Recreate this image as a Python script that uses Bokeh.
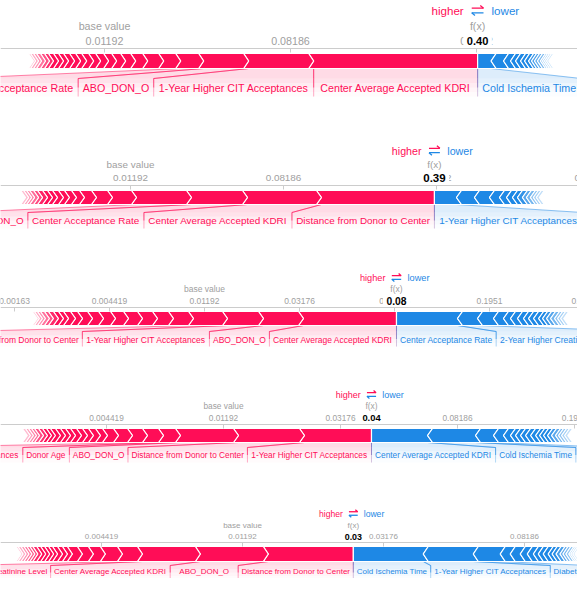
import math
from bokeh.plotting import figure
from bokeh.layouts import column
from bokeh.models import Range1d
from bokeh.embed import file_html
from bokeh.resources import INLINE
from bokeh.core.properties import value

# ---------------- data (SHAP contributions, log-odds units) ----------------
BASE_VALUE_LOGIT = -4.4173

p1_pos_names = ["Center Average Accepted KDRI", "1-Year Higher CIT Acceptances", "ABO_DON_O",
                "Center Acceptance Rate"]
p1_pos_vals = [1.763, 0.699, 0.484, 0.247, 0.183, 0.172, 0.129, 0.108, 0.097, 0.086, 0.086, 0.075,
               0.075, 0.065, 0.065, 0.065, 0.054, 0.054, 0.054, 0.043, 0.043, 0.043, 0.032, 0.032, 0.022]
p1_neg_names = ["Cold Ischemia Time"]
p1_neg_vals = [0.145, 0.134, 0.075, 0.054, 0.054, 0.043, 0.043, 0.032, 0.032, 0.032, 0.032, 0.022,
               0.022, 0.022, 0.022]
p1_tick_labels = ["0.01192", "0.08186", "0.3972"]
p1_first_tick = 0

p2_pos_names = ["Distance from Donor to Center", "Center Average Accepted KDRI", "Center Acceptance Rate",
                "ABO_DON_O"]
p2_pos_vals = [1.477, 0.967, 0.732, 0.719, 0.314, 0.209, 0.157, 0.105, 0.092, 0.078, 0.078, 0.065,
               0.065, 0.065, 0.052, 0.052, 0.039, 0.039, 0.039]
p2_neg_names = ["1-Year Higher CIT Acceptances"]
p2_neg_vals = [0.288, 0.235, 0.196, 0.131, 0.092, 0.078, 0.065, 0.065, 0.052, 0.052, 0.039, 0.039, 0.039]
p2_tick_labels = ["0.01192", "0.08186", "0.3972", "0.8296"]
p2_first_tick = 0

p3_pos_names = ["Center Average Accepted KDRI", "ABO_DON_O", "1-Year Higher CIT Acceptances",
                "Distance from Donor to Center"]
p3_pos_vals = [0.979, 0.421, 0.379, 0.358, 0.211, 0.168, 0.158, 0.147, 0.137, 0.126, 0.116, 0.105,
               0.074, 0.074, 0.053, 0.053, 0.053, 0.042, 0.042, 0.032, 0.032, 0.021]
p3_neg_names = ["Center Acceptance Rate", "2-Year Higher Creatinine Acceptances"]
p3_neg_vals = [0.642, 0.211, 0.168, 0.105, 0.074, 0.074, 0.063, 0.053, 0.053, 0.053, 0.042, 0.042,
               0.042, 0.042, 0.032, 0.032, 0.032]
p3_tick_labels = ["0.00163", "0.004419", "0.01192", "0.03176", "0.08186", "0.1951", "0.3972"]
p3_first_tick = -2

p4_pos_names = ["1-Year Higher CIT Acceptances", "Distance from Donor to Center", "ABO_DON_O",
                "Donor Age", "2-Year Higher CIT Acceptances"]
p4_pos_vals = [0.573, 0.564, 0.496, 0.145, 0.137, 0.128, 0.120, 0.094, 0.060, 0.060, 0.051, 0.051,
               0.051, 0.043, 0.043, 0.043, 0.043, 0.034, 0.034, 0.034, 0.034, 0.026, 0.026, 0.026, 0.026]
p4_neg_names = ["Center Average Accepted KDRI", "Cold Ischemia Time", "Diabetes"]
p4_neg_vals = [0.479, 0.410, 0.154, 0.085, 0.060, 0.043, 0.043, 0.043, 0.043, 0.043, 0.034, 0.034,
               0.034, 0.034, 0.034, 0.026, 0.026, 0.026, 0.026]
p4_tick_labels = ["0.004419", "0.01192", "0.03176", "0.08186", "0.1951"]
p4_first_tick = -1

p5_pos_names = ["Distance from Donor to Center", "ABO_DON_O", "Center Average Accepted KDRI",
                "Donor Creatinine Level"]
p5_pos_vals = [0.603, 0.482, 0.411, 0.142, 0.121, 0.085, 0.078, 0.071, 0.035, 0.035, 0.035, 0.028,
               0.028, 0.028, 0.028, 0.028, 0.021, 0.021, 0.021, 0.021, 0.021, 0.014]
p5_neg_names = ["Cold Ischemia Time", "1-Year Higher CIT Acceptances", "Diabetes"]
p5_neg_vals = [0.496, 0.355, 0.191, 0.071, 0.071, 0.050, 0.043, 0.035, 0.035, 0.035, 0.028, 0.028,
               0.028, 0.021, 0.021, 0.021, 0.014, 0.014, 0.014]
p5_tick_labels = ["0.004419", "0.01192", "0.03176", "0.08186"]
p5_first_tick = -1

# ---------------- layout / style ----------------
RED = "#ff0d57"
BLUE = "#1e88e5"
GRAY = "#a0a0a0"
AXIS = "#cccccc"
FONT = "Liberation Sans"
CROP_L, CROP_R = 0, 577
FADE = 22.0

LAYOUTS = [
    dict(top=0, bottom=130, base_px=104, ppu=93.0, step=2, header=10, fxlab=25, ticklab=40, axis=48,
         bartop=53, barbot=68, link=78, label=87, backbot=96, font=10.7, bold=11.1),
    dict(top=133, bottom=258, base_px=130, ppu=76.5, step=2, header=153, fxlab=167, ticklab=180, axis=188,
         bartop=193, barbot=207, link=215, label=223, backbot=231, font=9.9, bold=11.5),
    dict(top=261, bottom=383, base_px=204, ppu=95.0, step=1, header=283, fxlab=294, ticklab=306, axis=313,
         bartop=317, barbot=331, link=337, label=345, backbot=352, font=8.5, bold=10.3),
    dict(top=386, bottom=503, base_px=223, ppu=117.0, step=1, header=403, fxlab=414, ticklab=426, axis=433,
         bartop=437, barbot=451, link=456, label=463, backbot=471, font=8.3, bold=9.4),
    dict(top=506, bottom=590, base_px=242, ppu=141.0, step=1, header=525, fxlab=537, ticklab=548, axis=554,
         bartop=558, barbot=573, link=577, label=583, backbot=591, font=8.0, bold=8.9),
]

W = {' ': 278, 'a': 556, 'b': 556, 'c': 500, 'd': 556, 'e': 556, 'f': 278, 'g': 556, 'h': 556, 'i': 222,
     'j': 222, 'k': 500, 'l': 222, 'm': 833, 'n': 556, 'o': 556, 'p': 556, 'q': 556, 'r': 333, 's': 500,
     't': 278, 'u': 556, 'v': 500, 'w': 722, 'x': 500, 'y': 500, 'z': 500, 'A': 667, 'B': 667, 'C': 722,
     'D': 722, 'E': 667, 'F': 611, 'G': 778, 'H': 722, 'I': 278, 'J': 500, 'K': 667, 'L': 556, 'M': 833,
     'N': 722, 'O': 778, 'P': 667, 'Q': 778, 'R': 722, 'S': 667, 'T': 611, 'U': 722, 'V': 667, 'W': 944,
     'X': 667, 'Y': 667, 'Z': 611, '-': 333, '_': 556, '.': 278, '(': 333, ')': 333}


def text_w(s, size):
    return sum(W.get(c, 556) for c in s) * size / 1000.0


def inv_logit(t):
    return 1.0 / (1.0 + math.exp(-t))


def build(lay, pos_vals, pos_names, neg_vals, neg_names, tick_labels, first_tick):
    ppu = lay["ppu"]
    base = BASE_VALUE_LOGIT

    def u(px):
        return px / ppu

    x0 = base + (CROP_L - lay["base_px"]) / ppu
    x1 = base + (CROP_R - lay["base_px"]) / ppu
    p = figure(width=CROP_R - CROP_L, height=lay["bottom"] - lay["top"],
               x_range=Range1d(x0, x1), y_range=Range1d(lay["bottom"], lay["top"]),
               x_axis_location=None, y_axis_location=None, toolbar_location=None,
               output_backend="svg", min_border=0)
    p.outline_line_color = None
    p.background_fill_color = "white"
    p.border_fill_color = "white"
    p.xgrid.grid_line_color = None
    p.ygrid.grid_line_color = None
    p.grid.visible = False

    f = lay["font"]
    sc = f / 12.0
    pad = u(10 * sc)
    tip = u(5)
    top, bot = lay["bartop"], lay["barbot"]
    mid = (top + bot) / 2.0
    link, backbot = lay["link"], lay["backbot"]
    fx = base + sum(pos_vals) - sum(neg_vals)

    pos_segs = []
    right = fx
    for v in pos_vals:
        left = right - v
        pos_segs.append((left, right))
        right = left
    red_end = right
    neg_segs = []
    left = fx
    for v in neg_vals:
        right = left + v
        neg_segs.append((left, right))
        left = right
    blue_end = left

    def layout_labels(segs, names, sign):
        items = []
        cursor = fx
        for (l, r), name in zip(segs, names):
            tw = u(text_w(name, f))
            sw = max(tw, (r - l) - pad)
            if sign > 0:
                sr = cursor
                sl = cursor - sw - pad
                cx = sr - pad / 2 - sw / 2
                cursor = sl
            else:
                sl = cursor
                sr = cursor + sw + pad
                cx = sl + pad / 2 + sw / 2
                cursor = sr
            items.append(dict(l=l, r=r, sl=sl, sr=sr, cx=cx, name=name))
        return items

    pos_items = layout_labels(pos_segs, pos_names, 1)
    neg_items = layout_labels(neg_segs, neg_names, -1)

    # label backings (faded)
    band_alphas = [0.12, 0.08, 0.045, 0.015]
    bh = (backbot - link) / len(band_alphas)
    for items, color in ((pos_items, RED), (neg_items, BLUE)):
        if not items:
            continue
        n = len(items)
        p.patches(xs=[[it["l"], it["r"], it["sr"], it["sl"]] for it in items],
                  ys=[[bot, bot, link, link] for _ in items],
                  fill_color=color, fill_alpha=0.15, line_color=None)
        for j, a in enumerate(band_alphas):
            p.quad(left=[it["sl"] for it in items], right=[it["sr"] for it in items],
                   top=[link + j * bh] * n, bottom=[link + (j + 1) * bh] * n,
                   fill_color=color, fill_alpha=a, line_color=None)
        lx, ly = [], []
        for it in items:
            lx += [[it["l"], it["sl"]], [it["r"], it["sr"]]]
            ly += [[bot, link], [bot, link]]
        p.multi_line(xs=lx, ys=ly, line_color=color, line_alpha=0.5, line_width=1)
        dmid = link + (backbot - link) * 0.5
        dx = []
        for it in items:
            dx += [[it["sl"], it["sl"]], [it["sr"], it["sr"]]]
        p.multi_line(xs=dx, ys=[[link, dmid]] * len(dx), line_color=color, line_alpha=0.45, line_width=1)
        p.multi_line(xs=dx, ys=[[dmid, backbot]] * len(dx), line_color=color, line_alpha=0.18, line_width=1)

    # force bar blocks
    xs, ys, al = [], [], []
    for i, (l, r) in enumerate(pos_segs):
        if i == 0:
            xs.append([l - tip, r, r, l - tip, l])
            ys.append([top, top, bot, bot, mid])
        else:
            xs.append([l - tip, r - tip, r, r - tip, l - tip, l])
            ys.append([top, top, mid, bot, bot, mid])
        dist = ((l + r) / 2 - red_end) * ppu
        al.append(min(1.0, 0.22 + 0.78 * dist / FADE))
    p.patches(xs=xs, ys=ys, fill_color=RED, fill_alpha=al, line_color="white", line_width=1.2)
    xs, ys, al = [], [], []
    for i, (l, r) in enumerate(neg_segs):
        if i == 0:
            xs.append([l, r + tip, r, r + tip, l])
            ys.append([top, top, mid, bot, bot])
        else:
            xs.append([l + tip, r + tip, r, r + tip, l + tip, l])
            ys.append([top, top, mid, bot, bot, mid])
        dist = (blue_end - (l + r) / 2) * ppu
        al.append(min(1.0, 0.22 + 0.78 * dist / FADE))
    p.patches(xs=xs, ys=ys, fill_color=BLUE, fill_alpha=al, line_color="white", line_width=1.2)

    # feature labels
    for items, color in ((pos_items, RED), (neg_items, BLUE)):
        if not items:
            continue
        p.text(x=[it["cx"] for it in items], y=[lay["label"]] * len(items),
               text=[it["name"] for it in items], text_align="center", text_baseline="middle",
               text_color=color, text_font=value(FONT), text_font_size=value(f"{f}px"))

    # axis line, ticks and tick labels
    p.segment(x0=[x0], y0=[lay["axis"]], x1=[x1], y1=[lay["axis"]], line_color=AXIS, line_width=1)
    ticks = [base + (first_tick + k) * lay["step"] for k in range(len(tick_labels))]
    p.segment(x0=ticks, y0=[lay["axis"]] * len(ticks), x1=ticks, y1=[lay["axis"] + 4] * len(ticks),
              line_color=AXIS, line_width=1)
    p.text(x=ticks, y=[lay["ticklab"]] * len(ticks), text=tick_labels, text_align="center",
           text_baseline="middle", text_color=GRAY, text_font=value(FONT), text_font_size=value(f"{f}px"))

    # base value / f(x)
    p.text(x=[base, fx], y=[lay["fxlab"], lay["fxlab"]], text=["base value", "f(x)"], text_align="center",
           text_baseline="middle", text_color=GRAY, text_font=value(FONT), text_font_size=value(f"{f}px"))
    fx_text = f"{inv_logit(fx):.2f}"
    bw = text_w(fx_text, lay["bold"])
    p.rect(x=[fx], y=[lay["ticklab"]], width=u(bw + 7), height=lay["bold"] * 1.15,
           fill_color="white", line_color=None)
    p.text(x=[fx], y=[lay["ticklab"]], text=[fx_text], text_align="center", text_baseline="middle",
           text_color="#000000", text_font=value(FONT), text_font_style="bold",
           text_font_size=value(f"{lay['bold']}px"))

    # header: higher <-> lower
    hf = f * 1.08
    hy = lay["header"]
    p.text(x=[fx - u(1.3 * f)], y=[hy], text=["higher"], text_align="right", text_baseline="middle",
           text_color=RED, text_font=value(FONT), text_font_size=value(f"{hf:.1f}px"))
    p.text(x=[fx + u(1.3 * f)], y=[hy], text=["lower"], text_align="left", text_baseline="middle",
           text_color=BLUE, text_font=value(FONT), text_font_size=value(f"{hf:.1f}px"))
    a = u(0.55 * f)
    b = u(0.25 * f)
    dy = 0.22 * f
    p.multi_line(xs=[[fx - a, fx + a], [fx + a, fx + b]], ys=[[hy - dy, hy - dy], [hy - dy, hy - dy - 0.25 * f]],
                 line_color=RED, line_width=1.3)
    p.multi_line(xs=[[fx + a, fx - a], [fx - a, fx - b]], ys=[[hy + dy, hy + dy], [hy + dy, hy + dy + 0.25 * f]],
                 line_color=BLUE, line_width=1.3)
    return p


panels = [
    (p1_pos_vals, p1_pos_names, p1_neg_vals, p1_neg_names, p1_tick_labels, p1_first_tick),
    (p2_pos_vals, p2_pos_names, p2_neg_vals, p2_neg_names, p2_tick_labels, p2_first_tick),
    (p3_pos_vals, p3_pos_names, p3_neg_vals, p3_neg_names, p3_tick_labels, p3_first_tick),
    (p4_pos_vals, p4_pos_names, p4_neg_vals, p4_neg_names, p4_tick_labels, p4_first_tick),
    (p5_pos_vals, p5_pos_names, p5_neg_vals, p5_neg_names, p5_tick_labels, p5_first_tick),
]

figs = [build(lay, *args) for lay, args in zip(LAYOUTS, panels)]
page = column(*figs, spacing=0)
open("out.html", "w").write(file_html(page, INLINE))
